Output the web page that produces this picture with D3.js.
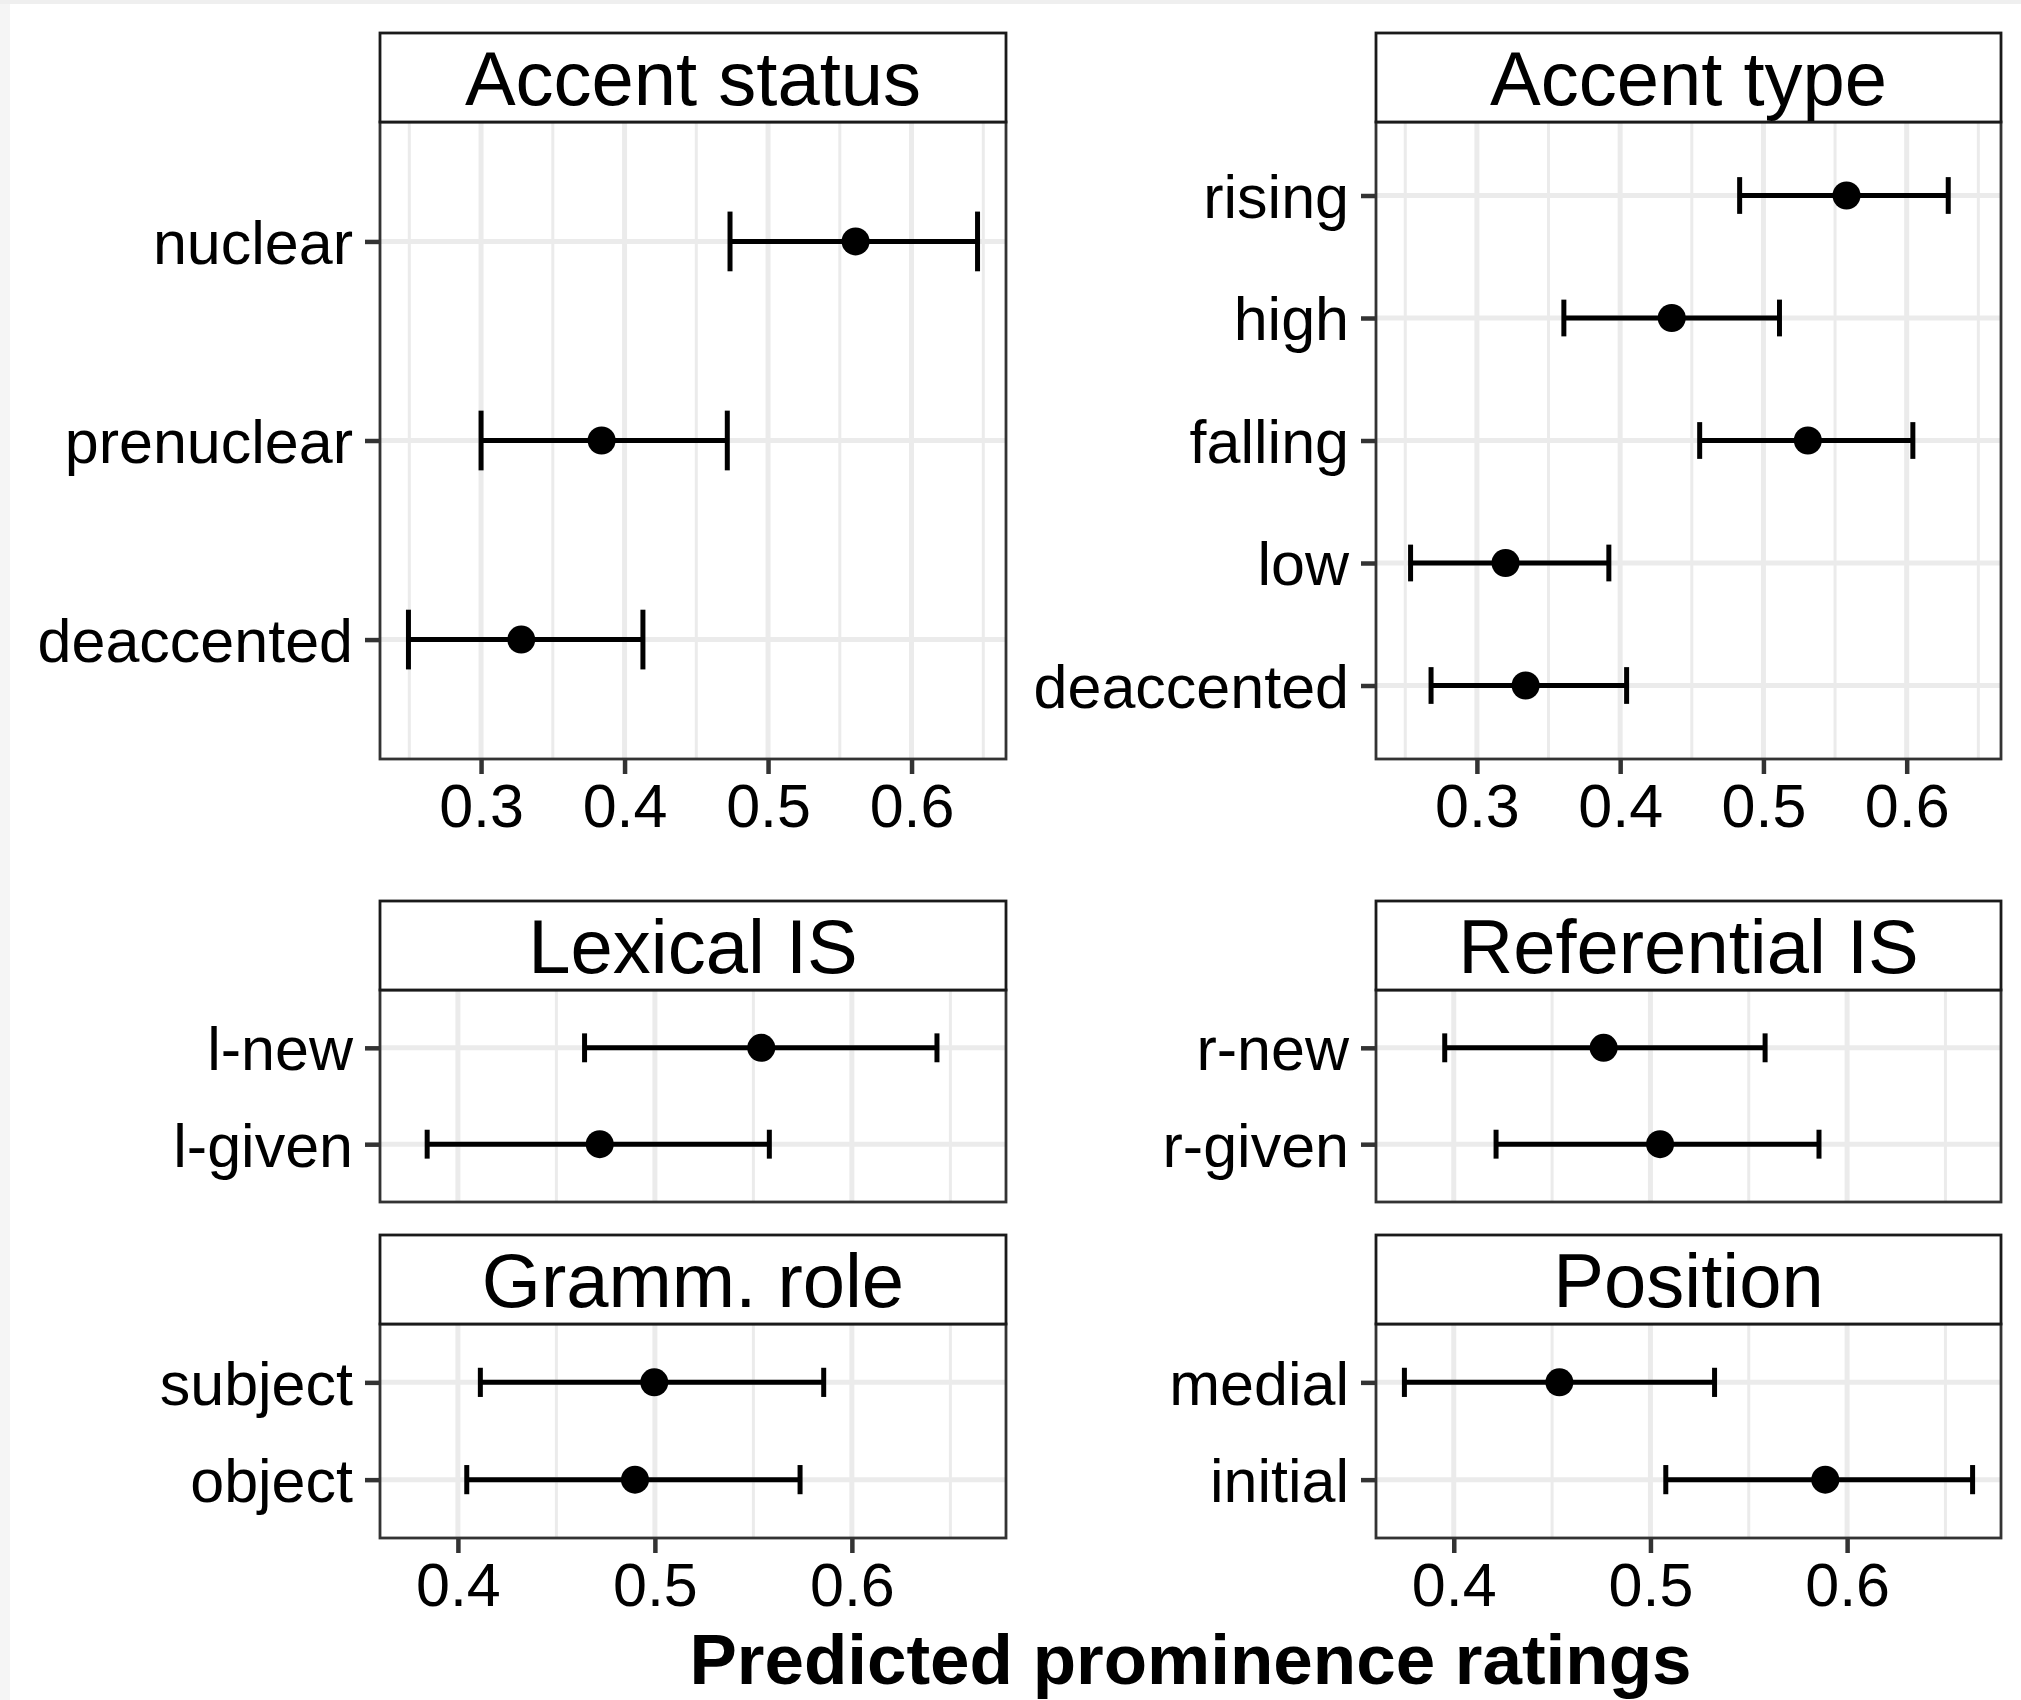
<!DOCTYPE html>
<html>
<head>
<meta charset="utf-8">
<script src="https://cdn.jsdelivr.net/npm/d3@7"></script>
<style>
  body { margin: 0; background: #ffffff; }
  svg { display: block; font-family: "Liberation Sans", Arial, sans-serif; }
</style>
</head>
<body>
<script>
// estimates: fit, lower and upper bound, top to bottom
var accentStatusCats = ["nuclear", "prenuclear", "deaccented"];
var accentStatusFit  = [0.561, 0.384, 0.328];
var accentStatusLow  = [0.4735, 0.300, 0.2494];
var accentStatusHigh = [0.646, 0.4716, 0.4128];

var accentTypeCats = ["rising", "high", "falling", "low", "deaccented"];
var accentTypeFit  = [0.558, 0.436, 0.531, 0.320, 0.334];
var accentTypeLow  = [0.4834, 0.3607, 0.4555, 0.2537, 0.268];
var accentTypeHigh = [0.629, 0.5112, 0.6043, 0.3921, 0.4045];

var lexicalCats = ["l-new", "l-given"];
var lexicalFit  = [0.554, 0.472];
var lexicalLow  = [0.4643, 0.3844];
var lexicalHigh = [0.6432, 0.5581];

var referentialCats = ["r-new", "r-given"];
var referentialFit  = [0.4762, 0.5049];
var referentialLow  = [0.3954, 0.4215];
var referentialHigh = [0.5583, 0.5857];

var grammCats = ["subject", "object"];
var grammFit  = [0.4997, 0.4899];
var grammLow  = [0.4114, 0.4045];
var grammHigh = [0.5857, 0.5737];

var positionCats = ["medial", "initial"];
var positionFit  = [0.4537, 0.5889];
var positionLow  = [0.3749, 0.5078];
var positionHigh = [0.5326, 0.6638];

var topTicks = [0.3, 0.4, 0.5, 0.6];
var bottomTicks = [0.4, 0.5, 0.6];
var xTitle = "Predicted prominence ratings";

//Set canvas size and layout of the panel grid
var width = 2021, height = 1700;
var cols = [[380, 1006], [1376, 2001]];
var stripH = 89;

function rows(cats, fit, low, high) {
  return cats.map(function(c, i) {
    return {cat: c, fit: fit[i], low: low[i], high: high[i]};
  });
}

var panels = [
  {title: "Accent status", col: 0, top: 33, bottom: 759, group: "top",
   data: rows(accentStatusCats, accentStatusFit, accentStatusLow, accentStatusHigh)},
  {title: "Accent type", col: 1, top: 33, bottom: 759, group: "top",
   data: rows(accentTypeCats, accentTypeFit, accentTypeLow, accentTypeHigh)},
  {title: "Lexical IS", col: 0, top: 901, bottom: 1202, group: "bottom",
   data: rows(lexicalCats, lexicalFit, lexicalLow, lexicalHigh)},
  {title: "Referential IS", col: 1, top: 901, bottom: 1202, group: "bottom",
   data: rows(referentialCats, referentialFit, referentialLow, referentialHigh)},
  {title: "Gramm. role", col: 0, top: 1235, bottom: 1538, group: "bottom",
   data: rows(grammCats, grammFit, grammLow, grammHigh)},
  {title: "Position", col: 1, top: 1235, bottom: 1538, group: "bottom",
   data: rows(positionCats, positionFit, positionLow, positionHigh)}
];

//Shared x domain per row group, expanded 5% like ggplot
var domains = {};
["top", "bottom"].forEach(function(g) {
  var all = [];
  panels.filter(function(p) { return p.group === g; })
        .forEach(function(p) { all = all.concat(p.data); });
  var lo = d3.min(all, function(d) { return d.low; });
  var hi = d3.max(all, function(d) { return d.high; });
  var pad = (hi - lo) * 0.05;
  domains[g] = [lo - pad, hi + pad];
});

var svg = d3.select("body")
  .append("svg")
  .attr("width", width)
  .attr("height", height);

svg.append("rect").attr("width", width).attr("height", height).attr("fill", "#ffffff");
// faint frame at top and left edge
svg.append("rect").attr("x", 0).attr("y", 0).attr("width", 10).attr("height", height).attr("fill", "#f5f5f5");
svg.append("rect").attr("x", 0).attr("y", 0).attr("width", width).attr("height", 4).attr("fill", "#efefef");

panels.forEach(function(p) {
  var x0 = cols[p.col][0], x1 = cols[p.col][1];
  var py0 = p.top + stripH, py1 = p.bottom;
  var ticks = p.group === "top" ? topTicks : bottomTicks;

  var xscale = d3.scaleLinear().domain(domains[p.group]).range([x0, x1]);
  var yscale = d3.scalePoint()
    .domain(p.data.map(function(d) { return d.cat; }))
    .range([py0, py1])
    .padding(0.6);
  var capHalf = yscale.step() * 0.15;

  var g = svg.append("g").attr("class", "panel");

  //minor grid lines halfway between breaks
  var minor = [];
  var step = ticks[1] - ticks[0];
  for (var v = ticks[0] - step / 2; v <= domains[p.group][1]; v += step) {
    if (v >= domains[p.group][0]) minor.push(v);
  }
  g.selectAll(".minor")
    .data(minor).enter()
    .append("line")
    .attr("x1", function(d) { return xscale(d); })
    .attr("x2", function(d) { return xscale(d); })
    .attr("y1", py0).attr("y2", py1)
    .attr("stroke", "#ebebeb").attr("stroke-width", 3);

  g.selectAll(".major")
    .data(ticks).enter()
    .append("line")
    .attr("x1", function(d) { return xscale(d); })
    .attr("x2", function(d) { return xscale(d); })
    .attr("y1", py0).attr("y2", py1)
    .attr("stroke", "#ebebeb").attr("stroke-width", 5);

  g.selectAll(".hgrid")
    .data(p.data).enter()
    .append("line")
    .attr("x1", x0).attr("x2", x1)
    .attr("y1", function(d) { return yscale(d.cat); })
    .attr("y2", function(d) { return yscale(d.cat); })
    .attr("stroke", "#ebebeb").attr("stroke-width", 5);

  //error bars
  var bars = g.selectAll(".bar").data(p.data).enter().append("g");
  bars.append("line")
    .attr("x1", function(d) { return xscale(d.low); })
    .attr("x2", function(d) { return xscale(d.high); })
    .attr("y1", function(d) { return yscale(d.cat); })
    .attr("y2", function(d) { return yscale(d.cat); })
    .attr("stroke", "#000").attr("stroke-width", 5);
  bars.append("line")
    .attr("x1", function(d) { return xscale(d.low); })
    .attr("x2", function(d) { return xscale(d.low); })
    .attr("y1", function(d) { return yscale(d.cat) - capHalf; })
    .attr("y2", function(d) { return yscale(d.cat) + capHalf; })
    .attr("stroke", "#000").attr("stroke-width", 5);
  bars.append("line")
    .attr("x1", function(d) { return xscale(d.high); })
    .attr("x2", function(d) { return xscale(d.high); })
    .attr("y1", function(d) { return yscale(d.cat) - capHalf; })
    .attr("y2", function(d) { return yscale(d.cat) + capHalf; })
    .attr("stroke", "#000").attr("stroke-width", 5);
  bars.append("circle")
    .attr("cx", function(d) { return xscale(d.fit); })
    .attr("cy", function(d) { return yscale(d.cat); })
    .attr("r", 14)
    .attr("fill", "#000");

  //panel border
  g.append("rect")
    .attr("x", x0).attr("y", py0)
    .attr("width", x1 - x0).attr("height", py1 - py0)
    .attr("fill", "none").attr("stroke", "#333333").attr("stroke-width", 2.8);

  //strip
  g.append("rect")
    .attr("x", x0).attr("y", p.top)
    .attr("width", x1 - x0).attr("height", stripH)
    .attr("fill", "#ffffff").attr("stroke", "#1a1a1a").attr("stroke-width", 2.8);
  g.append("text")
    .attr("x", (x0 + x1) / 2)
    .attr("y", p.top + stripH / 2)
    .attr("dy", "0.36em")
    .attr("text-anchor", "middle")
    .style("font-size", "76px")
    .style("fill", "#000")
    .text(p.title);

  //y axis
  var yAxis = g.append("g")
    .attr("transform", "translate(" + x0 + ",0)")
    .call(d3.axisLeft(yscale).tickSize(15).tickPadding(12));
  yAxis.select(".domain").remove();
  yAxis.selectAll("line").attr("stroke", "#333333").attr("stroke-width", 4.5);
  yAxis.selectAll("text")
    .attr("dy", "0.36em")
    .style("font-size", "61px")
    .style("font-family", "'Liberation Sans', Arial, sans-serif")
    .style("fill", "#000");

  //x axis only under the bottom panel of each column in its group
  if (p.title !== "Lexical IS" && p.title !== "Referential IS") {
    var xAxis = g.append("g")
      .attr("transform", "translate(0," + py1 + ")")
      .call(d3.axisBottom(xscale).tickValues(ticks).tickFormat(d3.format(".1f")).tickSize(15).tickPadding(10));
    xAxis.select(".domain").remove();
    xAxis.selectAll("line").attr("stroke", "#333333").attr("stroke-width", 4.5);
    xAxis.selectAll("text")
      .style("font-size", "61px")
      .style("font-family", "'Liberation Sans', Arial, sans-serif")
      .style("fill", "#000");
  }
});

//Set X-axis title
svg.append("text")
  .attr("x", (cols[0][0] + cols[1][1]) / 2)
  .attr("y", 1684)
  .attr("text-anchor", "middle")
  .style("font-size", "71px")
  .style("font-weight", "bold")
  .style("fill", "#000")
  .text(xTitle);
</script>
</body>
</html>
